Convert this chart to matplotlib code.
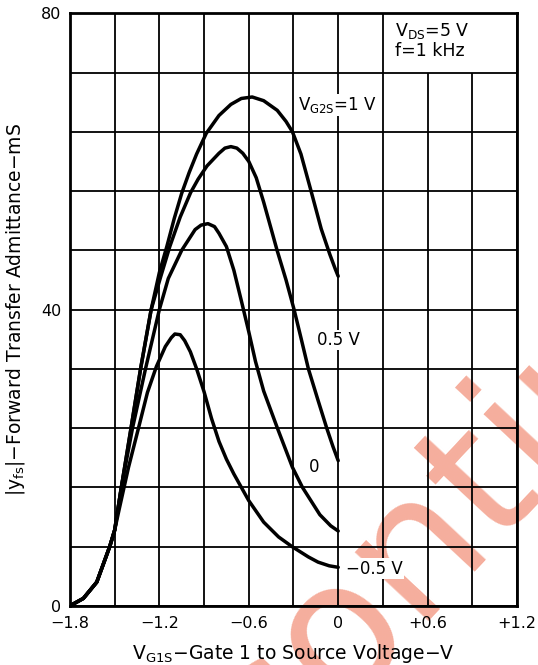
import matplotlib
matplotlib.use("Agg")
import matplotlib.pyplot as plt

# |yfs| vs VG1S (VDS = 5 V, f = 1 kHz)
vg1s_1v = [-1.8, -1.71, -1.62, -1.533, -1.5, -1.455, -1.39, -1.326, -1.255, -1.2,
           -1.15, -1.1, -1.05, -1.0, -0.95, -0.885, -0.8, -0.72, -0.65, -0.577,
           -0.5, -0.409, -0.35, -0.307, -0.25, -0.182, -0.114, -0.057, -0.02, 0.0]
yfs_1v = [0.0, 1.0, 3.2, 8.0, 10.2, 16.0, 24.0, 32.0, 40.0, 45.0,
          48.5, 52.3, 55.7, 58.5, 61.0, 63.8, 66.2, 67.7, 68.5, 68.7,
          68.2, 66.9, 65.4, 64.0, 61.0, 56.0, 50.9, 47.5, 45.5, 44.5]

vg1s_05v = [-1.8, -1.71, -1.62, -1.533, -1.5, -1.455, -1.39, -1.326, -1.255, -1.19,
            -1.13, -1.06, -0.99, -0.94, -0.88, -0.8, -0.76, -0.72, -0.68, -0.64,
            -0.6, -0.55, -0.5, -0.45, -0.41, -0.35, -0.296, -0.25, -0.2, -0.136,
            -0.077, -0.035, 0.0]
yfs_05v = [0.0, 1.0, 3.2, 8.0, 10.2, 16.0, 24.0, 32.0, 40.0, 44.5,
           48.5, 52.5, 55.8, 57.6, 59.4, 61.1, 61.8, 62.0, 61.8, 61.1,
           60.0, 57.8, 54.5, 50.9, 48.0, 44.0, 40.0, 36.2, 32.0, 27.8,
           24.0, 21.5, 19.6]

vg1s_0v = [-1.8, -1.71, -1.62, -1.533, -1.5, -1.455, -1.38, -1.293, -1.2, -1.14,
           -1.05, -0.96, -0.92, -0.874, -0.83, -0.8, -0.75, -0.7, -0.65, -0.6,
           -0.555, -0.5, -0.408, -0.307, -0.24, -0.123, -0.05, 0.0]
yfs_0v = [0.0, 1.0, 3.2, 8.0, 10.2, 16.0, 24.0, 32.0, 40.0, 44.2,
          48.0, 50.8, 51.4, 51.6, 51.2, 50.3, 48.5, 45.3, 41.2, 37.0,
          33.0, 29.0, 24.0, 18.7, 16.0, 12.3, 10.8, 10.1]

vg1s_m05v = [-1.8, -1.71, -1.62, -1.533, -1.5, -1.47, -1.407, -1.34, -1.28, -1.22,
             -1.16, -1.12, -1.096, -1.06, -1.03, -0.992, -0.95, -0.9, -0.85, -0.8,
             -0.75, -0.7, -0.6, -0.5, -0.4, -0.31, -0.2, -0.135, -0.06, 0.0]
yfs_m05v = [0.0, 1.0, 3.2, 8.0, 10.2, 13.0, 18.7, 24.0, 28.8, 32.3,
            35.0, 36.2, 36.7, 36.6, 35.8, 34.3, 32.0, 28.9, 25.3, 22.2,
            19.8, 17.8, 14.2, 11.3, 9.3, 8.0, 6.6, 5.9, 5.4, 5.2]

grid_x = [-1.8, -1.5, -1.2, -0.9, -0.6, -0.3, 0.0, 0.3, 0.6, 0.9, 1.2]
grid_y = [0, 8, 16, 24, 32, 40, 48, 56, 64, 72, 80]
box_cols = [0.6, 0.9]  # grid lines that stop under the condition box

xtick_vals = [-1.8, -1.2, -0.6, 0.0, 0.6, 1.2]
xtick_text = ["\u22121.8", "\u22121.2", "\u22120.6", "0", "+0.6", "+1.2"]
ytick_vals = [0, 40, 80]
ytick_text = ["0", "40", "80"]

fig = plt.figure(figsize=(5.38, 6.65), dpi=100)
ax = fig.add_axes([0.130, 0.089, 0.831, 0.891])
ax.set_zorder(1)

# faint watermark of the scanned sheet, behind the chart
fig.text(71 / 538, -321 / 665, "Discontinued", rotation=47, rotation_mode="anchor",
         ha="left", va="baseline", fontsize=132, color="#f5ae9d", zorder=-1)

for gx in grid_x:
    top = 72 if gx in box_cols else 80
    ax.vlines(gx, 0, top, color="black", lw=1.3, zorder=1)
for gy in grid_y:
    ax.hlines(gy, -1.8, 1.2, color="black", lw=1.3, zorder=1)

curves = [(vg1s_1v, yfs_1v), (vg1s_05v, yfs_05v), (vg1s_0v, yfs_0v), (vg1s_m05v, yfs_m05v)]
for xs, ys in curves:
    ax.plot(xs, ys, color="black", lw=2.5, solid_capstyle="round",
            solid_joinstyle="round", zorder=3)

lbl = dict(fontsize=12, color="black", zorder=4,
           bbox=dict(facecolor="white", edgecolor="none", pad=1.0))
ax.text(-0.27, 67.6, "V$_{\\rm G2S}$=1 V", ha="left", va="center", **lbl)
ax.text(-0.14, 35.9, "0.5 V", ha="left", va="center", **lbl)
ax.text(-0.20, 18.7, "0", ha="left", va="center", **lbl)
ax.text(0.05, 5.0, "\u22120.5 V", ha="left", va="center", **lbl)
ax.text(0.38, 77.6, "V$_{\\rm DS}$=5 V", ha="left", va="center", fontsize=12.5, zorder=4)
ax.text(0.38, 74.9, "f=1 kHz", ha="left", va="center", fontsize=12.5, zorder=4)

ax.set_xlim(-1.8, 1.2)
ax.set_ylim(0, 80)
ax.set_xticks(xtick_vals, labels=xtick_text)
ax.set_yticks(ytick_vals, labels=ytick_text)
ax.tick_params(length=0, labelsize=11.5)
ax.tick_params(axis="x", pad=7)
ax.tick_params(axis="y", pad=6)
for sp in ax.spines.values():
    sp.set_linewidth(2.0)
    sp.set_zorder(5)
ax.set_facecolor("none")

ax.set_xlabel("V$_{\\rm G1S}$\u2212Gate 1 to Source Voltage\u2212V", fontsize=13.5, labelpad=8)
ax.set_ylabel("|y$_{\\rm fs}$|\u2212Forward Transfer Admittance\u2212mS", fontsize=13.5, labelpad=10)

fig.savefig("out.png", dpi=100)
